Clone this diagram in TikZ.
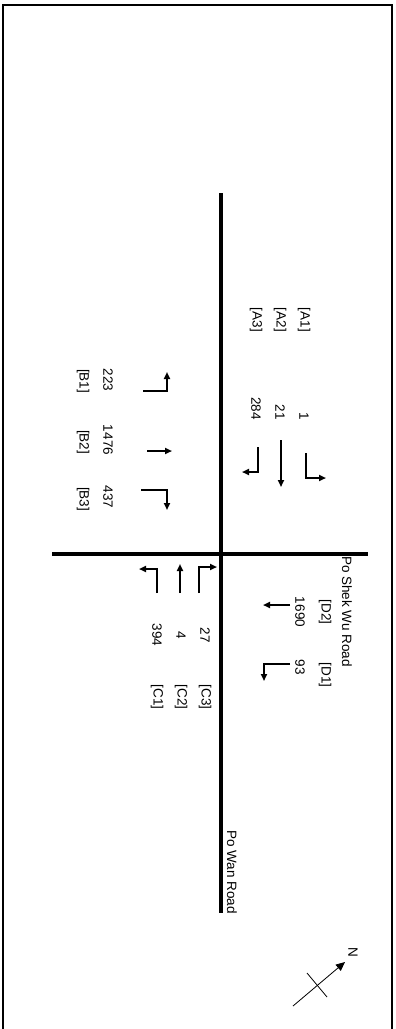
\documentclass[tikz,border=0pt]{standalone}
\usepackage{fontspec}
\setmainfont{Liberation Sans}
\usetikzlibrary{arrows.meta,positioning}

\begin{document}
\begin{tikzpicture}[x=1pt,y=-1pt,
  lbl/.style={rotate=-90,inner sep=0pt,font=\fontsize{13.5}{14}\selectfont},
  road/.style={line width=4pt},
  mvt/.style={line width=2pt,-{Triangle[length=7pt,width=6pt]}}]

\useasboundingbox (0,0) rectangle (396,1029);
\draw[line width=2pt] (3,1032) -- (3,5) -- (392,5) -- (392,1032);

% roads
\draw[road] (221,193) -- (221,913);
\draw[road] (52,554) -- (368,554);
\node[lbl,anchor=west] (shekwu) at (347,556) {Po Shek Wu Road};
\node[lbl,anchor=west] (powan) at (232,830) {Po Wan Road};

% approach A
\node[lbl] (a1) at (304,320) {[A1]};
\node[lbl] (a2) at (280,320) {[A2]};
\node[lbl] (a3) at (256,320) {[A3]};
\node[lbl,anchor=east] (va1) at (304,420) {1};
\node[lbl,anchor=east] (va2) at (280,420) {21};
\node[lbl,anchor=east] (va3) at (256,420) {284};
\draw[mvt] (258,447) -- (258,472) -- (242,472);
\draw[mvt] (281,440) -- (281,487);
\draw[mvt] (306,453) -- (306,478) -- (326,478);

% approach B
\node[lbl] (b1) at (83,381) {[B1]};
\node[lbl] (b2) at (83,442) {[B2]};
\node[lbl] (b3) at (83,499) {[B3]};
\node[lbl] (vb1) at (108,380) {223};
\node[lbl] (vb2) at (108,440) {1476};
\node[lbl] (vb3) at (108,497) {437};
\draw[mvt] (143,391) -- (167,391) -- (167,372);
\draw[mvt] (147,451) -- (172,451);
\draw[mvt] (141,490) -- (167,490) -- (167,510);

% approach C
\node[lbl] (c1) at (157,697) {[C1]};
\node[lbl] (c2) at (181,697) {[C2]};
\node[lbl] (c3) at (205,697) {[C3]};
\node[lbl] (vc1) at (157,635) {394};
\node[lbl] (vc2) at (181,635) {4};
\node[lbl] (vc3) at (205,635) {27};
\draw[mvt] (157,593) -- (157,569) -- (139,569);
\draw[mvt] (180,593) -- (180,564);
\draw[mvt] (199,593) -- (199,567) -- (217,567);

% approach D
\node[lbl] (d2) at (325,612) {[D2]};
\node[lbl] (d1) at (325,675) {[D1]};
\node[lbl] (vd2) at (300,612) {1690};
\node[lbl] (vd1) at (300,667) {93};
\draw[mvt] (290,605) -- (263,605);
\draw[mvt] (290,664) -- (264,664) -- (264,681);

% north
\coordinate (ntail) at (293,1006);
\coordinate (ntip) at (345,962);
\draw[line width=0.8pt,-{Triangle[length=9pt,width=8pt]}] (ntail) -- (ntip);
\draw[line width=0.8pt] (307,973) -- (327,997);
\node[lbl] (north) at (353,952) {N};

\end{tikzpicture}
\end{document}
